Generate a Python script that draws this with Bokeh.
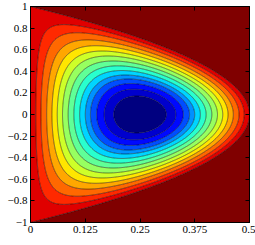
import numpy as np
from bokeh.plotting import figure
from bokeh.models import LinearAxis, FixedTicker, CustomJSTickFormatter, Range1d, Label
from bokeh.embed import file_html
from bokeh.resources import INLINE

# --- tick values and labels -------------------------------------------------
r_ticks = [0, 0.125, 0.25, 0.375, 0.5]
r_tick_labels = ["0", "0.125", "0.25", "0.375", "0.5"]
z_ticks = [-1, -0.8, -0.6, -0.4, -0.2, 0, 0.2, 0.4, 0.6, 0.8, 1]
z_tick_labels = ["\u22121", "\u22120.8", "\u22120.6", "\u22120.4", "\u22120.2", "0",
                 "0.2", "0.4", "0.6", "0.8", "1"]

# --- field: psi = R (R - a (1 - z^2)), zero on R = 0 and on R = a (1 - z^2) --
a_edge = 0.5
psi_levels = [-0.0630, -0.0589, -0.0558, -0.0527, -0.0497, -0.0469, -0.0435,
              -0.0397, -0.0356, -0.0312, -0.0268, -0.0221, -0.0171, -0.0114,
              -0.0059, 0.0, 0.30]
band_colors = ["#000080", "#0000cd", "#0009ff", "#004dff", "#0091ff", "#00d5ff",
               "#29ffce", "#60ff97", "#97ff60", "#ceff29", "#ffe600", "#ffa700",
               "#ff6800", "#ff2900", "#e00000", "#800000"]

R = np.linspace(0.0, 0.5, 401)
Z = np.linspace(-1.0, 1.0, 801)
RR, ZZ = np.meshgrid(R, Z)
psi = RR * (RR - a_edge * (1.0 - ZZ ** 2))

FONT = "Liberation Serif"

p = figure(width=255, height=245, x_range=Range1d(0, 0.5), y_range=Range1d(-1, 1),
           output_backend="svg", toolbar_location=None,
           min_border_left=30, min_border_right=6, min_border_top=6, min_border_bottom=23)
p.grid.visible = False
p.outline_line_color = "black"
p.outline_line_width = 1
p.background_fill_color = "white"
p.border_fill_color = "white"

p.contour(x=R, y=Z, z=psi, levels=psi_levels, fill_color=band_colors,
          line_color="black", line_width=0.6, line_alpha=0.85)

fmt_js = """
const i = tv.findIndex(t => Math.abs(t - tick) < 1e-9);
return i >= 0 ? tl[i] : "";
"""
xfmt = CustomJSTickFormatter(args=dict(tv=r_ticks, tl=r_tick_labels), code=fmt_js)
yfmt = CustomJSTickFormatter(args=dict(tv=z_ticks, tl=z_tick_labels), code=fmt_js)
blank = CustomJSTickFormatter(code="return '';")

for ax, tk, fm in ((p.xaxis[0], r_ticks, xfmt), (p.yaxis[0], z_ticks, yfmt)):
    ax.ticker = FixedTicker(ticks=tk)
    ax.formatter = fm
    ax.major_tick_in = 4
    ax.major_tick_out = 0
    ax.minor_tick_line_color = None
    ax.major_label_standoff = 3
    ax.major_label_text_font = FONT
    ax.major_label_text_font_size = "11px"
    ax.major_label_text_color = "black"
    ax.axis_line_color = "black"

p.add_layout(LinearAxis(ticker=FixedTicker(ticks=z_ticks), formatter=blank,
                        major_tick_in=4, major_tick_out=0, minor_tick_line_color=None,
                        major_label_standoff=0, major_label_text_font_size="0px"), "right")
p.add_layout(LinearAxis(ticker=FixedTicker(ticks=r_ticks), formatter=blank,
                        major_tick_in=4, major_tick_out=0, minor_tick_line_color=None,
                        major_label_standoff=0, major_label_text_font_size="0px"), "above")

p.add_layout(Label(x=0.25, y=-1.135, text="R", text_font=FONT, text_font_style="italic",
                   text_font_size="11px", text_align="center", text_baseline="middle"))
p.add_layout(Label(x=-0.054, y=0.0, text="z", text_font=FONT, text_font_style="italic",
                   text_font_size="11px", text_align="center", text_baseline="middle",
                   angle=np.pi / 2))

open("out.html", "w").write(file_html(p, INLINE))
